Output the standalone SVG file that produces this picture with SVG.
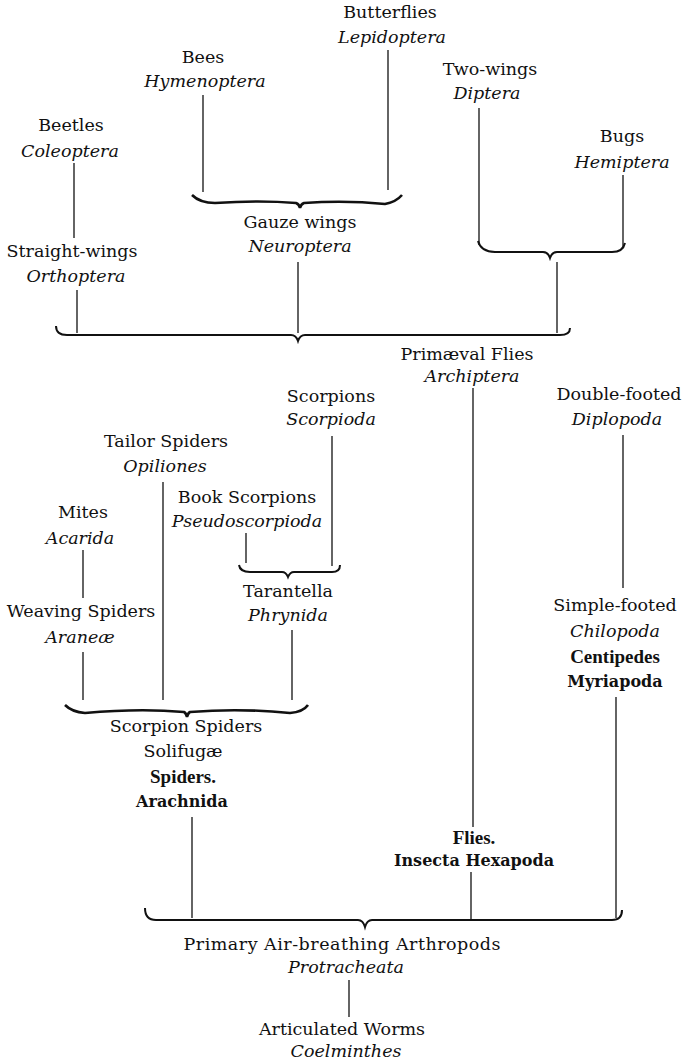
<svg xmlns="http://www.w3.org/2000/svg" width="682" height="1061" viewBox="0 0 682 1061">
<style>
text{font-family:"DejaVu Serif","Liberation Serif",serif;font-size:17.5px;fill:#111;text-anchor:middle}
.i{font-style:italic}
.b{font-weight:bold;font-size:16px}
.f{font-weight:bold;font-family:"Liberation Serif","DejaVu Serif",serif;font-size:19px}
.c line{stroke:#111;stroke-width:1.3}
.c path{stroke:#111;stroke-width:2;fill:none}
.c path.s{stroke-width:2.6}
</style>
<rect width="682" height="1061" fill="#fff"/>
<g class="c" id="connectors">
<line x1="388" y1="50" x2="388" y2="190"/>
<line x1="203" y1="95" x2="203" y2="192"/>
<line x1="74" y1="163" x2="74" y2="238"/>
<line x1="77" y1="290" x2="77" y2="333"/>
<line x1="298" y1="262" x2="298" y2="333"/>
<line x1="479" y1="108" x2="479" y2="245"/>
<line x1="623" y1="175" x2="623" y2="247"/>
<line x1="557" y1="262" x2="557" y2="333"/>
<line x1="473" y1="388" x2="473" y2="827"/>
<line x1="332" y1="436" x2="332" y2="566"/>
<line x1="246" y1="533" x2="246" y2="563"/>
<line x1="623" y1="435" x2="623" y2="588"/>
<line x1="163" y1="482" x2="163" y2="700"/>
<line x1="83" y1="550" x2="83" y2="598"/>
<line x1="83" y1="652" x2="83" y2="700"/>
<line x1="292" y1="630" x2="292" y2="700"/>
<line x1="192" y1="817" x2="192" y2="918"/>
<line x1="471" y1="872" x2="471" y2="920"/>
<line x1="616" y1="697" x2="616" y2="918"/>
<line x1="349" y1="980" x2="349" y2="1017"/>
<path class="s" d="M192 195 Q200 203 215 203 Q260 200 296 203 Q299 204 300 208 Q301 204 304 203 Q345 200 385 204 Q396 202 402 195"/>
<path d="M478 241 Q481 252 495 252 L543 252 Q548 252 550 258 Q552 252 557 252 L612 252 Q623 252 625 243"/>
<path d="M56 326 Q56 335 67 335 L291 335 Q296 335 298 341 Q300 335 305 335 L560 335 Q570 335 570 328"/>
<path d="M239 565 Q240 572 250 572 L282 572 Q286 572 288 577 Q290 572 294 572 L332 572 Q340 572 340 565"/>
<path class="s" d="M65 705 Q72 712 85 713 Q140 708 184 712 Q186 713 187 717 Q188 713 190 712 Q240 708 290 713 Q303 712 308 705"/>
<path d="M145 908 Q145 920 156 920 L358 920 Q363 920 365 927 Q367 920 372 920 L612 920 Q622 920 622 910"/>
</g>
<g id="butterflies"><text x="390" y="18">Butterflies</text><text class="i" x="392" y="43">Lepidoptera</text></g>
<g id="bees"><text x="203" y="63">Bees</text><text class="i" x="205" y="87">Hymenoptera</text></g>
<g id="twowings"><text x="490" y="75">Two-wings</text><text class="i" x="487" y="99">Diptera</text></g>
<g id="beetles"><text x="71" y="131">Beetles</text><text class="i" x="70" y="157">Coleoptera</text></g>
<g id="bugs"><text x="622" y="142">Bugs</text><text class="i" x="622" y="168">Hemiptera</text></g>
<g id="gauze"><text x="300" y="228">Gauze wings</text><text class="i" x="300" y="252">Neuroptera</text></g>
<g id="straight"><text x="72" y="257">Straight-wings</text><text class="i" x="76" y="282">Orthoptera</text></g>
<g id="primaeval"><text x="467" y="360">Primæval Flies</text><text class="i" x="472" y="382">Archiptera</text></g>
<g id="scorpions"><text x="331" y="402">Scorpions</text><text class="i" x="331" y="425">Scorpioda</text></g>
<g id="doublefooted"><text x="619" y="400">Double-footed</text><text class="i" x="617" y="425">Diplopoda</text></g>
<g id="tailor"><text x="166" y="447">Tailor Spiders</text><text class="i" x="165" y="472">Opiliones</text></g>
<g id="book"><text x="247" y="503">Book Scorpions</text><text class="i" x="247" y="527">Pseudoscorpioda</text></g>
<g id="mites"><text x="83" y="518">Mites</text><text class="i" x="80" y="544">Acarida</text></g>
<g id="tarantella"><text x="288" y="597">Tarantella</text><text class="i" x="288" y="621">Phrynida</text></g>
<g id="weaving"><text x="81" y="617">Weaving Spiders</text><text class="i" x="80" y="643">Araneæ</text></g>
<g id="simplefooted"><text x="615" y="611">Simple-footed</text><text class="i" x="615" y="637">Chilopoda</text><text class="f" x="615" y="663">Centipedes</text><text class="b" x="615" y="687">Myriapoda</text></g>
<g id="arachnida"><text x="186" y="732">Scorpion Spiders</text><text x="183" y="757">Solifugæ</text><text class="f" x="183" y="783">Spiders.</text><text class="b" x="182" y="807">Arachnida</text></g>
<g id="insecta"><text class="f" x="474" y="844">Flies.</text><text class="b" x="474" y="866">Insecta Hexapoda</text></g>
<g id="protracheata"><text x="342" y="950" textLength="317" lengthAdjust="spacing">Primary Air-breathing Arthropods</text><text class="i" x="346" y="973">Protracheata</text></g>
<g id="coelminthes"><text x="342" y="1035">Articulated Worms</text><text class="i" x="346" y="1057">Coelminthes</text></g>
</svg>
